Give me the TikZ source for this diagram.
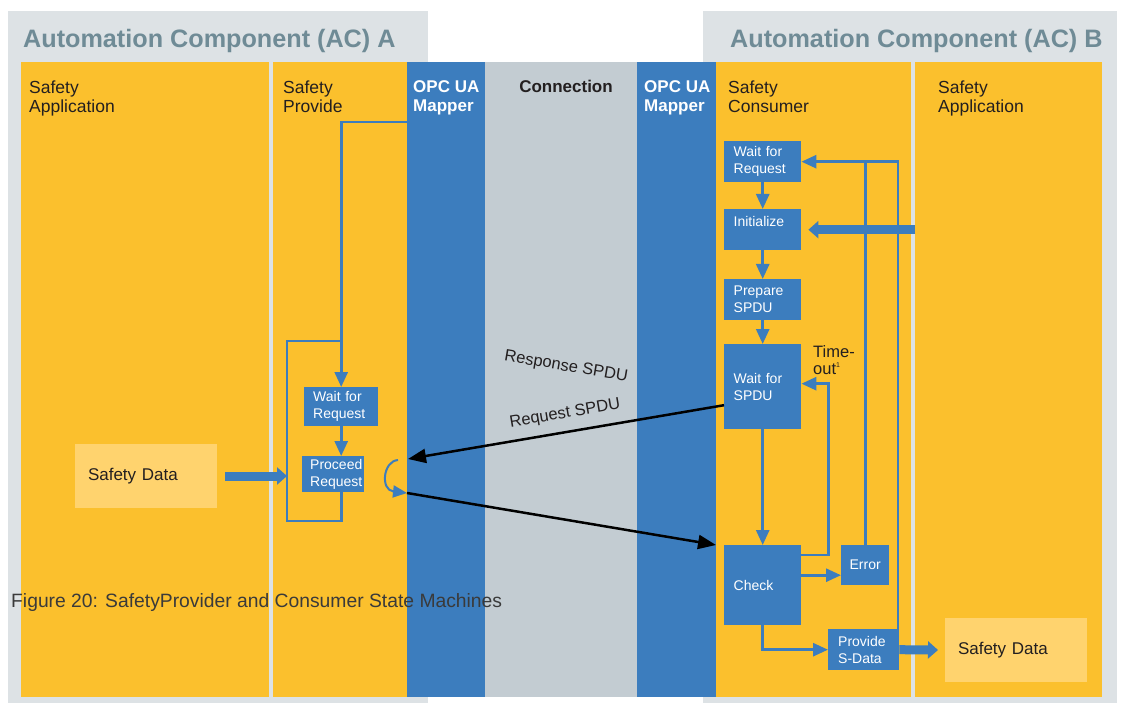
\documentclass[tikz,border=0pt]{standalone}
\usepackage{fontspec}
\setmainfont{Liberation Sans}
\usetikzlibrary{positioning,arrows.meta,calc}

\definecolor{acgray}{HTML}{DDE2E5}
\definecolor{acyellow}{HTML}{FBC02D}
\definecolor{opcblue}{HTML}{3C7DBE}
\definecolor{conngray}{HTML}{C3CCD2}
\definecolor{datayellow}{HTML}{FFD36E}
\definecolor{titlegray}{HTML}{6F8B96}
\definecolor{headtext}{HTML}{231F20}
\definecolor{captext}{HTML}{3A3A3A}

\begin{document}
\begin{tikzpicture}[x=1pt,y=-1pt,
      panel/.style = {anchor=north west, inner sep=0, outer sep=0},
      title/.style = {anchor=base west, inner sep=0, text=titlegray, font=\fontsize{25.2}{28}\selectfont\bfseries},
      colhead/.style = {anchor=north west, inner sep=0, align=left, text=headtext, font=\fontsize{17.5}{19}\selectfont},
      maphead/.style = {colhead, text=white, font=\fontsize{17}{19}\selectfont\bfseries},
      state/.style = {anchor=north west, fill=opcblue, text=white, align=left, inner xsep=9.5pt, inner ysep=0pt, font=\fontsize{14}{17}\selectfont},
      data/.style = {panel, fill=datayellow, align=left, inner xsep=13pt, text width=116, minimum width=142, minimum height=64, text=headtext, font=\fontsize{17}{20}\selectfont},
      flow/.style = {draw=opcblue, line width=2.7pt, -{Triangle[length=15pt,width=13pt]}},
      link/.style = {draw=opcblue, line width=2.7pt},
      bigflow/.style = {draw=opcblue, line width=9pt, -{Triangle[length=10pt,width=17pt]}},
      curl/.style = {draw=opcblue, line width=2pt, -{Triangle[length=14pt,width=12pt]}},
      msg/.style = {draw=black, line width=2.5pt, -{Triangle[length=18pt,width=14pt]}},
      msglabel/.style = {inner sep=0, text=headtext, font=\fontsize{16.5}{19}\selectfont},
      caption/.style = {anchor=base west, inner sep=0, text=captext, font=\fontsize{19.3}{22}\selectfont}
      ]
      \useasboundingbox (0,0) rectangle (1121,703);
      % component backgrounds
      \node[panel, fill=acgray, minimum width=420, minimum height=692] (acA) at (8,11) {};
      \node[panel, fill=acgray, minimum width=414, minimum height=692] (acB) at (703,11) {};
      \node[title] (tA) at (23,47.5) {Automation Component (AC) A};
      \node[title] (tB) at (730,47.5) {Automation Component (AC) B};
      % columns
      \node[panel, fill=acyellow, minimum width=248, minimum height=635] (appA) at (21,62) {};
      \node[panel, fill=acyellow, minimum width=134, minimum height=635] (prov) at (273,62) {};
      \node[panel, fill=opcblue, minimum width=78, minimum height=635] (mapA) at (407,62) {};
      \node[panel, fill=conngray, minimum width=152, minimum height=635] (conn) at (485,62) {};
      \node[panel, fill=opcblue, minimum width=79, minimum height=635] (mapB) at (637,62) {};
      \node[panel, fill=acyellow, minimum width=195, minimum height=635] (cons) at (716,62) {};
      \node[panel, fill=acyellow, minimum width=187, minimum height=635] (appB) at (915,62) {};
      \node[colhead] (hAppA) at (29,81) {Safety\\Application};
      \node[colhead] (hProv) at (283,81) {Safety\\Provide};
      \node[maphead] (hMapA) at (413,80) {OPC UA\\Mapper};
      \node[colhead, anchor=north, font=\fontsize{17}{19}\selectfont\bfseries] (hConn) at (566,80) {Connection};
      \node[maphead] (hMapB) at (644,80) {OPC UA\\Mapper};
      \node[colhead] (hCons) at (728,81) {Safety\\Consumer};
      \node[colhead] (hAppB) at (938,81) {Safety\\Application};

      % provider side
      \node[data] (sdA) at (75,444) {Safety Data};
      \node[state, minimum width=74, minimum height=39, text width=56, inner xsep=9pt] (pwreq) at (304,387) {Wait for\\Request};
      \node[state, minimum width=62, minimum height=36, text width=46, inner xsep=8pt] (pproc) at (302,456) {Proceed\\Request};
      \coordinate (pin) at (mapA.west |- 0,122);
      \coordinate (loopL) at (287,521);
      \coordinate (loopT) at (287,341);
      \draw[flow] (pin) -| (pwreq.north);
      \draw[flow] (pwreq.south) -- (pwreq.south |- pproc.north);
      \draw[link] (pwreq.south |- pproc.south) -- (pwreq.south |- loopL) -- (loopL) -- (loopT) -- (pwreq.north |- loopT);
      \draw[bigflow] ([xshift=8]sdA.east) -- (sdA.east -| loopL);
      \coordinate (curlA) at (398,460);
      \coordinate (respin) at (407,493);
      \draw[curl] (curlA) .. controls (383,461) and (380,490) .. (respin);

      % consumer side
      \node[state, minimum width=77, minimum height=41, text width=58] (cwreq) at (724,141) {Wait for\\Request};
      \node[state, minimum width=77, minimum height=41, text width=58] (cinit) at (724,209) {Initialize\\\mbox{}};
      \node[state, minimum width=77, minimum height=41, text width=58] (cprep) at (724,279) {Prepare\\SPDU};
      \node[state, minimum width=77, minimum height=85, text width=58] (cwspdu) at (724,344) {Wait for\\SPDU};
      \node[state, minimum width=77, minimum height=80, text width=58] (ccheck) at (724,545) {Check};
      \node[state, minimum width=48, minimum height=40, text width=32, inner xsep=8pt, align=center] (cerror) at (841,545) {Error};
      \node[state, minimum width=71, minimum height=41, text width=51, inner xsep=10pt] (cprov) at (828,629) {Provide\\S-Data};
      \node[data] (sdB) at (945,618) {Safety Data};
      \node[colhead, font=\fontsize{16.5}{17}\selectfont] (tout) at (813,345) {Time-\\out\textsuperscript{\scriptsize 1}};
      \draw[flow] (cwreq) -- (cinit);
      \draw[flow] (cinit) -- (cprep);
      \draw[flow] (cprep) -- (cwspdu);
      \draw[flow] (cwspdu) -- (ccheck);
      \draw[flow] ([yshift=-10]ccheck.north east) -| ([xshift=27,yshift=3]cwspdu.east) -- ([yshift=3]cwspdu.east);
      \coordinate (chkout) at ([yshift=10]ccheck.east);
      \draw[flow] (chkout) -- (chkout -| cerror.west);
      \draw[flow] (cerror.north) |- (cwreq.east);
      \draw[link] ([xshift=-1.5]cprov.north east) |- (cerror.north |- cwreq.east);
      \draw[flow] (ccheck.south) |- (cprov.west);
      \draw[bigflow] (cprov.east) -- ([xshift=-7]sdB.west);
      \draw[bigflow] (cinit.east -| appB.west) -- ([xshift=7]cinit.east);

      % messages
      \coordinate (reqin) at (408,459);
      \draw[msg] ([yshift=-18.5]cwspdu.west) -- (reqin);
      \draw[msg] (respin) -- (mapB.east |- ccheck.north);
      \node[msglabel, rotate=9.6] (lreq) at (565,414) {Request SPDU};
      \node[msglabel, rotate=-9.7] (lresp) at (566,367) {Response SPDU};

      \node[caption] (cap) at (11,607) {Figure 20: SafetyProvider and Consumer State Machines};
    \end{tikzpicture}
\end{document}
